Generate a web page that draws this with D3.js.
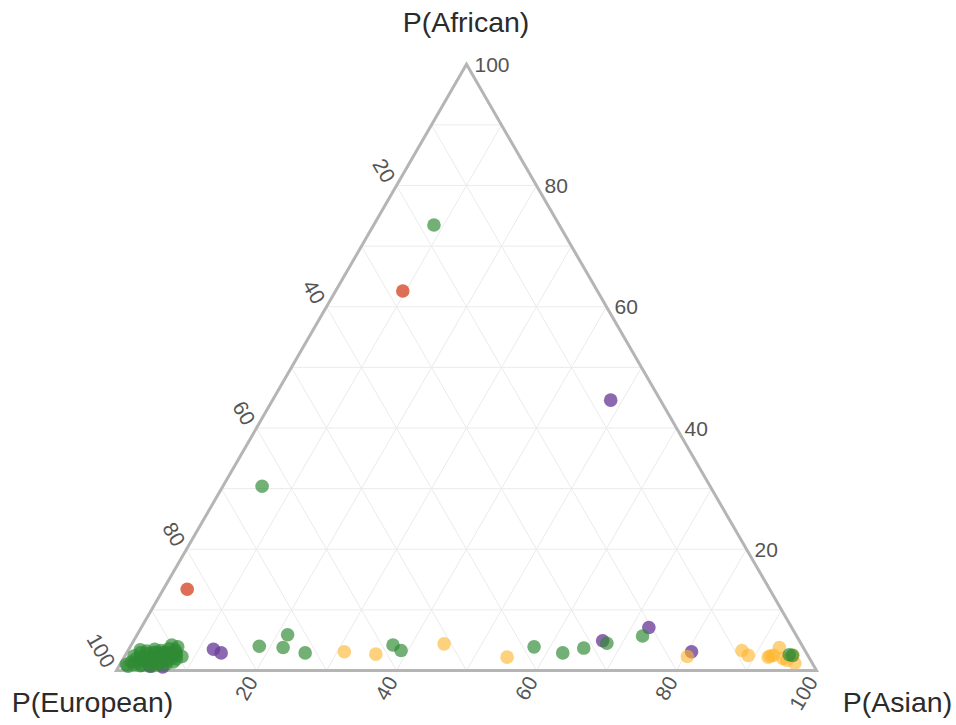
<!DOCTYPE html>
<html>
<head>
<meta charset="utf-8">
<script src="https://cdn.jsdelivr.net/npm/d3@7"></script>
<style>
  body { margin: 0; background: #fff; }
  svg { display: block; font-family: "Liberation Sans", Arial, Helvetica, sans-serif; }
</style>
</head>
<body>
<svg id="chart" width="956" height="725"></svg>
<script>
// Axis titles for the three ancestry proportions
const axisTitles = { african: "P(African)", european: "P(European)", asian: "P(Asian)" };
const tickValues = [20, 40, 60, 80, 100];
const gridValues = [10, 20, 30, 40, 50, 60, 70, 80, 90];

// Samples as [African, European, Asian] percentages
const greenSamples = [
  [73.5, 17.9, 8.6], [30.4, 64.0, 5.6],
  [4.0, 77.6, 18.4], [5.9, 72.6, 21.5], [3.8, 74.3, 21.9], [2.9, 71.6, 25.5],
  [4.2, 58.4, 37.4], [3.3, 57.7, 39.0], [3.9, 38.4, 57.7], [2.9, 34.8, 62.3],
  [3.7, 31.4, 64.9], [4.5, 27.7, 67.8], [5.7, 22.0, 72.3], [2.6, 2.6, 94.8],
  [2.5, 2.2, 95.3],
  // dense European group
  [1.4, 97.2, 1.4], [1.3, 96.3, 2.4], [1.5, 95.1, 3.4], [1.4, 94.2, 4.4],
  [1.2, 93.4, 5.4], [1.6, 92.0, 6.4], [1.4, 91.2, 7.4],
  [2.4, 96.3, 1.3], [2.2, 95.5, 2.3], [2.5, 94.2, 3.3], [2.4, 93.3, 4.3],
  [2.6, 92.1, 5.3], [2.3, 91.4, 6.3], [2.5, 90.2, 7.3], [2.3, 89.5, 8.2],
  [3.4, 94.9, 1.7], [3.2, 94.1, 2.7], [3.5, 92.8, 3.7], [3.3, 92.0, 4.7],
  [3.6, 90.7, 5.7], [3.4, 89.9, 6.7], [3.9, 89.3, 6.8], [4.2, 90.0, 5.8],
  [0.7, 98.0, 1.3], [0.8, 96.2, 3.0], [0.7, 94.6, 4.7],
  [1.9, 95.6, 2.5], [2.9, 93.1, 4.0], [1.8, 92.4, 5.8], [2.8, 90.4, 6.8],
  [3.0, 91.6, 5.4],
  [1.9, 96.3, 1.8], [1.9, 95.3, 2.8], [2.0, 94.2, 3.8], [1.9, 93.3, 4.8],
  [1.8, 92.4, 5.8], [2.0, 91.2, 6.8], [1.9, 90.5, 7.6],
  [2.9, 95.1, 2.0], [2.8, 94.2, 3.0], [3.0, 93.0, 4.0], [2.9, 92.1, 5.0],
  [2.9, 91.1, 6.0], [3.0, 90.0, 7.0],
  [1.0, 98.1, 0.9], [1.0, 97.0, 2.0], [0.9, 95.9, 3.2], [1.1, 94.5, 4.4],
  [1.0, 93.4, 5.6], [1.1, 92.3, 6.6]
];
const purpleSamples = [
  [44.6, 7.1, 48.3], [3.5, 84.4, 12.1], [2.9, 83.6, 13.5], [4.9, 28.1, 67.0],
  [7.1, 20.4, 72.5], [3.1, 16.3, 80.6], [0.6, 93.1, 6.3], [0.7, 94.9, 4.4]
];
const yellowSamples = [
  [3.1, 65.9, 31.0], [2.7, 61.6, 35.7], [4.4, 51.0, 44.6], [2.2, 43.1, 54.7],
  [2.3, 17.3, 80.4], [3.3, 9.0, 87.7], [2.5, 8.5, 89.0], [2.4, 5.4, 92.2],
  [2.5, 4.9, 92.6], [3.8, 3.4, 92.8], [2.0, 3.8, 94.2], [1.2, 2.5, 96.3],
  [2.5, 2.1, 95.4], [1.7, 3.4, 94.9], [2.2, 5.8, 92.0]
];
const redSamples = [
  [62.6, 27.8, 9.6], [13.4, 83.2, 3.4]
];

const groups = [
  { samples: purpleSamples, color: "#6a3d9a", opacity: 0.78 },
  { samples: yellowSamples, color: "#fdb42c", opacity: 0.62 },
  { samples: greenSamples,  color: "#2f8a33", opacity: 0.68 },
  { samples: redSamples,    color: "#d9553a", opacity: 0.85 }
];

const svg = d3.select("#chart");

// Triangle frame: European bottom-left, Asian bottom-right, African at the apex
const xPos = d3.scaleLinear().domain([0, 1]).range([116.5, 816.5]);
const yPos = d3.scaleLinear().domain([0, 100]).range([670.5, 64.3]);

// Ternary projection from (African, Asian) percentages
const project = (afr, asi) => [xPos(asi / 100 + afr / 200), yPos(afr)];

const vA = project(100, 0), vE = project(0, 0), vS = project(0, 100);

// Grid lines for each component
const grid = svg.append("g").attr("stroke", "#ebebeb").attr("stroke-width", 1).attr("fill", "none");
const line = d3.line();
gridValues.forEach(v => {
  // constant African
  grid.append("path").attr("d", line([project(v, 0), project(v, 100 - v)]));
  // constant Asian
  grid.append("path").attr("d", line([project(0, v), project(100 - v, v)]));
  // constant European
  grid.append("path").attr("d", line([project(100 - v, 0), project(0, 100 - v)]));
});

// Triangle border
svg.append("path")
  .attr("d", line([vA, vE, vS]) + "Z")
  .attr("fill", "none")
  .attr("stroke", "#b5b5b5")
  .attr("stroke-width", 3)
  .attr("stroke-linejoin", "miter");

// Points
groups.forEach(g => {
  svg.append("g").selectAll("circle")
    .data(g.samples)
    .join("circle")
    .attr("cx", d => project(d[0], d[2])[0])
    .attr("cy", d => project(d[0], d[2])[1])
    .attr("r", 6.8)
    .attr("fill", g.color)
    .attr("fill-opacity", g.opacity);
});

// Tick labels
const tickStyle = sel => sel.attr("font-size", 21).attr("fill", "#555").attr("dominant-baseline", "central");

// African (right edge)
tickValues.forEach(v => {
  const p = project(v, 100 - v);
  svg.append("text").call(tickStyle)
    .attr("x", p[0] + 8).attr("y", p[1])
    .attr("text-anchor", "start")
    .text(v);
});

// European (left edge)
tickValues.forEach(v => {
  const p = project(100 - v, 0);
  const x = p[0] - 6.5, y = p[1] - 5;
  svg.append("text").call(tickStyle)
    .attr("transform", `translate(${x},${y}) rotate(60)`)
    .attr("text-anchor", "end")
    .text(v);
});

// Asian (bottom edge)
tickValues.forEach(v => {
  const p = project(0, v);
  const x = p[0] - 4.5, y = p[1] + 7.5;
  svg.append("text").call(tickStyle)
    .attr("transform", `translate(${x},${y}) rotate(-60)`)
    .attr("text-anchor", "end")
    .text(v);
});

// Axis titles
const titleStyle = sel => sel.attr("font-size", 28.5).attr("fill", "#2b2b2b").attr("text-anchor", "middle");
svg.append("text").call(titleStyle).attr("x", 466).attr("y", 32).text(axisTitles.african);
svg.append("text").call(titleStyle).attr("x", 92.5).attr("y", 712).text(axisTitles.european);
svg.append("text").call(titleStyle).attr("x", 897.5).attr("y", 712).text(axisTitles.asian);
</script>
</body>
</html>
